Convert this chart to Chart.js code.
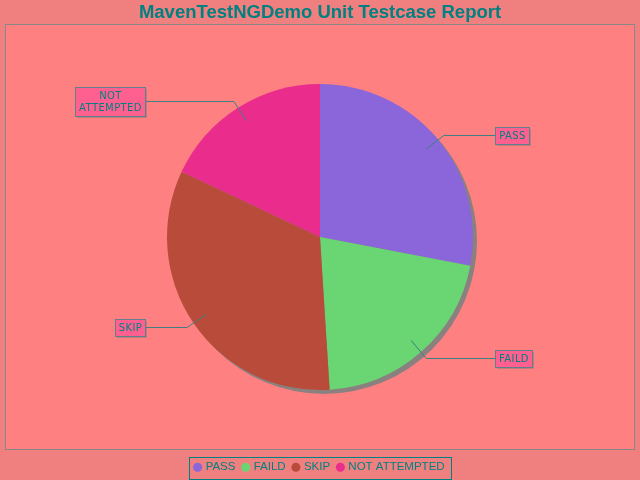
<!DOCTYPE html>
<html><head><meta charset="utf-8">
<script src="https://cdn.jsdelivr.net/npm/chart.js@4/dist/chart.umd.min.js"></script>
<style>html,body{margin:0;padding:0;background:#F08080;overflow:hidden}</style>
</head><body>
<canvas id="c" width="640" height="480"></canvas>
<script>
const chartTitle = 'MavenTestNGDemo Unit Testcase Report';
const categories = ['PASS', 'FAILD', 'SKIP', 'NOT ATTEMPTED'];
const percentValues = [28, 21, 33, 18];
const sliceColors = ['#8A66DA', '#69D673', '#B94B3A', '#EA2D8D'];

const TEAL = '#008080';

const bgPlugin = {
  id: 'bg',
  beforeDraw(chart) {
    const {ctx, chartArea: a} = chart;
    ctx.save();
    ctx.fillStyle = '#F08080';
    ctx.fillRect(0, 0, chart.width, chart.height);
    ctx.fillStyle = '#FF8080';
    ctx.fillRect(a.left, a.top, a.right - a.left, a.bottom - a.top);
    ctx.strokeStyle = '#888888';
    ctx.lineWidth = 1;
    ctx.strokeRect(a.left + 0.5, a.top + 0.5, a.right - a.left - 1, a.bottom - a.top - 1);
    ctx.restore();
  },
  beforeLayout(chart) {
    const lg = chart.legend;
    if (lg && !lg._patched) {
      const f = lg.fit.bind(lg);
      lg.fit = function () { f(); this.height = 30; };
      lg._patched = true;
    }
  },
  afterLayout(chart) {
    const lg = chart.legend;
    if (lg) { lg.top += 3.5; lg.bottom += 3.5; }
  },
  beforeDatasetsDraw(chart) {
    const meta = chart.getDatasetMeta(0);
    if (!meta.data.length) return;
    const arc = meta.data[0];
    const {ctx} = chart;
    ctx.save();
    ctx.fillStyle = '#8A8080';
    ctx.beginPath();
    ctx.arc(arc.x + 4, arc.y + 4, arc.outerRadius, 0, Math.PI * 2);
    ctx.fill();
    ctx.restore();
  },
  afterDatasetsDraw(chart) {
    const meta = chart.getDatasetMeta(0);
    const {ctx} = chart;
    ctx.save();
    ctx.font = '10px "DejaVu Sans"';
    try { ctx.letterSpacing = '0.4px'; } catch (e) {}
    const lineH = 12, padX = 3.5, padY = 2, maxW = 70;
    meta.data.forEach((arc, i) => {
      const mid = (arc.startAngle + arc.endAngle) / 2;
      const dx = Math.cos(mid), dy = Math.sin(mid);
      const r = arc.outerRadius;
      const p0 = {x: arc.x + dx * r * 0.9, y: arc.y + dy * r * 0.9};
      const p1 = {x: arc.x + dx * r * 1.05, y: Math.round(arc.y + dy * r * 1.05) + 0.5};
      const right = dx >= 0;
      const words = categories[i].split(' ');
      const lines = [];
      let cur = '';
      words.forEach(w => {
        const t = cur ? cur + ' ' + w : w;
        if (cur && ctx.measureText(t).width > maxW) { lines.push(cur); cur = w; } else cur = t;
      });
      lines.push(cur);
      const tw = Math.max(...lines.map(l => ctx.measureText(l).width));
      const bw = Math.round(tw + padX * 2), bh = lines.length * lineH + padY * 2 + 1;
      const bx = right ? Math.round(arc.x + r + 22) : Math.round(arc.x - r - 22 - bw);
      const by = Math.round(p1.y - bh / 2);
      ctx.strokeStyle = '#3F7F80';
      ctx.lineWidth = 1;
      ctx.beginPath();
      ctx.moveTo(p0.x, p0.y);
      ctx.lineTo(p1.x, p1.y);
      ctx.lineTo(right ? bx : bx + bw, p1.y);
      ctx.stroke();
      ctx.fillStyle = 'rgba(120,120,120,0.45)';
      ctx.fillRect(bx + 2, by + 2, bw, bh);
      ctx.fillStyle = '#FF6090';
      ctx.fillRect(bx, by, bw, bh);
      ctx.strokeStyle = '#607F8A';
      ctx.strokeRect(bx + 0.5, by + 0.5, bw, bh);
      ctx.fillStyle = TEAL;
      ctx.textAlign = 'center';
      ctx.textBaseline = 'middle';
      lines.forEach((l, k) => ctx.fillText(l, bx + bw / 2 + 0.5, by + padY + lineH * k + lineH / 2 + 1.5));
    });
    ctx.restore();
  },
  afterDraw(chart) {
    const lg = chart.legend;
    if (!lg || !lg.legendHitBoxes || !lg.legendHitBoxes.length) return;
    const hb = lg.legendHitBoxes;
    const l = hb[0].left - 6, r = hb[hb.length - 1].left + hb[hb.length - 1].width + 7;
    const t = hb[0].top - 5, b = hb[0].top + hb[0].height + 5;
    const {ctx} = chart;
    ctx.save();
    ctx.strokeStyle = TEAL;
    ctx.lineWidth = 1;
    ctx.strokeRect(Math.round(l) + 0.5, Math.round(t) + 0.5, Math.round(r - l), Math.round(b - t));
    ctx.restore();
  }
};

new Chart(document.getElementById('c'), {
  type: 'pie',
  data: {
    labels: categories,
    datasets: [{
      data: percentValues,
      backgroundColor: sliceColors,
      borderWidth: 0,
      radius: 153
    }]
  },
  options: {
    responsive: false,
    animation: false,
    devicePixelRatio: 1,
    layout: {padding: {left: 5, right: 5, top: 0, bottom: 0}},
    plugins: {
      title: {
        display: true,
        text: chartTitle,
        color: TEAL,
        font: {family: '"Liberation Sans", Arial, sans-serif', size: 18.5, weight: 'bold', lineHeight: 1.2},
        padding: {top: 1.8, bottom: 0}
      },
      legend: {
        display: true,
        position: 'bottom',
        labels: {
          color: TEAL,
          font: {family: '"Liberation Sans", Arial, sans-serif', size: 11.5},
          usePointStyle: true,
          pointStyle: 'circle',
          boxWidth: 4.5,
          boxHeight: 6.4,
          padding: 8
        }
      },
      tooltip: {enabled: false}
    }
  },
  plugins: [bgPlugin]
});
</script>
</body></html>
